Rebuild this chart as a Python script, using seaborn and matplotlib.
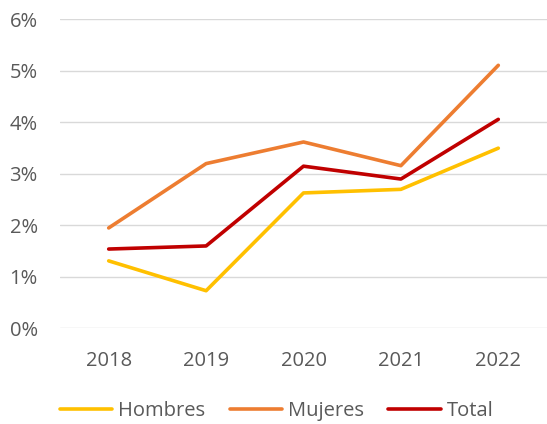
import pandas as pd
import matplotlib.pyplot as plt
import seaborn as sns
from matplotlib.ticker import PercentFormatter

years = ["2018", "2019", "2020", "2021", "2022"]
hombres = [1.31, 0.73, 2.63, 2.70, 3.50]
mujeres = [1.95, 3.20, 3.62, 3.16, 5.11]
total = [1.54, 1.60, 3.15, 2.90, 4.06]

df = pd.DataFrame({
    "Año": years * 3,
    "Valor": hombres + mujeres + total,
    "Serie": ["Hombres"] * 5 + ["Mujeres"] * 5 + ["Total"] * 5,
})

sns.set_style("white")
plt.rcParams["font.family"] = ["Open Sans", "DejaVu Sans"]

fig = plt.figure(figsize=(5.47, 4.24), dpi=100)
ax = fig.add_axes([60 / 547, 1 - 328.3 / 424, 1 - 60 / 547, (328.3 - 19.5) / 424])

palette = {"Hombres": "#FFC000", "Mujeres": "#ED7D31", "Total": "#C00000"}
sns.lineplot(data=df, x="Año", y="Valor", hue="Serie", palette=palette,
             linewidth=2.6, ax=ax, legend=False, sort=False)

ax.set_xlim(-0.5, 4.5)
ax.set_ylim(0, 6)
ax.set_yticks(range(0, 7))
ax.yaxis.set_major_formatter(PercentFormatter(decimals=0))
ax.grid(axis="y", color="#d9d9d9", linewidth=1)
ax.set_axisbelow(True)
for s in ax.spines.values():
    s.set_visible(False)
ax.tick_params(axis="both", length=0, labelsize=14.5, labelcolor="#595959")
ax.tick_params(axis="x", pad=16)
ax.tick_params(axis="y", pad=16)
ax.set_xlabel("")
ax.set_ylabel("")

handles = [plt.Line2D([], [], color=palette[k], linewidth=2.6) for k in palette]
fig.legend(handles, list(palette), loc="center", bbox_to_anchor=(0.506, 1 - 411 / 424),
           ncol=3, frameon=False, fontsize=14.5, labelcolor="#595959",
           handlelength=2.6, handletextpad=0.3, columnspacing=1.2)

fig.savefig("out.png", dpi=100)
